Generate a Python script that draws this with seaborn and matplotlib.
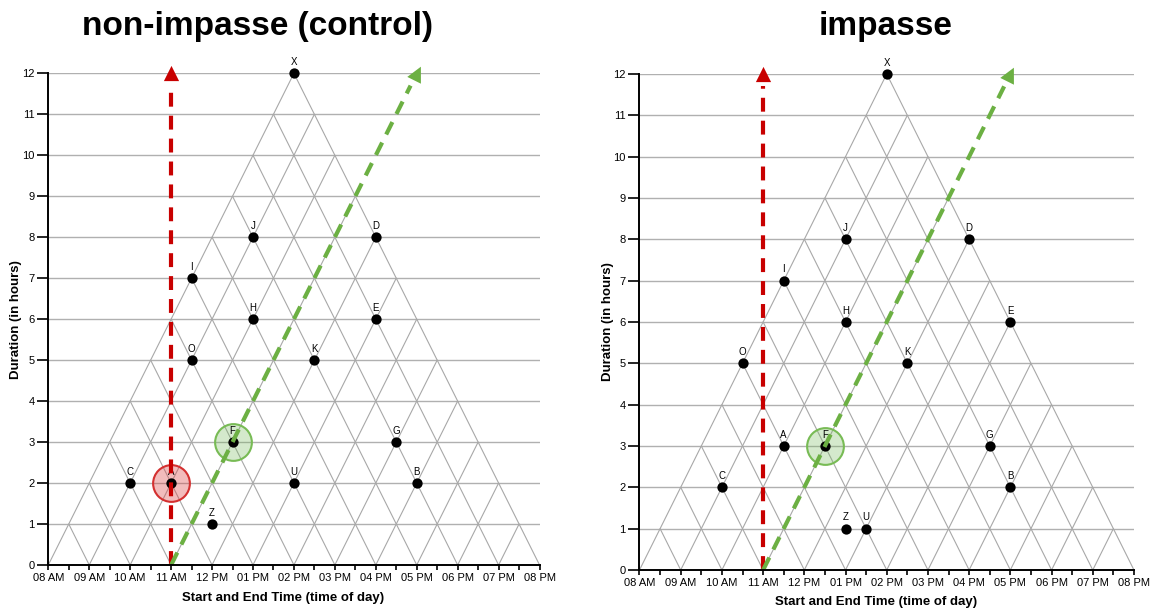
import numpy as np
import pandas as pd
import matplotlib
matplotlib.use("Agg")
import matplotlib.pyplot as plt
from matplotlib.markers import MarkerStyle
from matplotlib.transforms import Affine2D
import seaborn as sns

# ---- data: time of day (hours, midpoint of interval) and duration (hours) ----
control_labels = ["X", "J", "D", "I", "H", "E", "O", "K", "F", "G", "C", "A", "U", "B", "Z"]
control_time = [14, 13, 16, 11.5, 13, 16, 11.5, 14.5, 12.5, 16.5, 10, 11, 14, 17, 12]
control_dur = [12, 8, 8, 7, 6, 6, 5, 5, 3, 3, 2, 2, 2, 2, 1]

impasse_labels = ["X", "J", "D", "I", "H", "E", "O", "K", "A", "F", "G", "C", "B", "Z", "U"]
impasse_time = [14, 13, 16, 11.5, 13, 17, 10.5, 14.5, 11.5, 12.5, 16.5, 10, 17, 13, 13.5]
impasse_dur = [12, 8, 8, 7, 6, 6, 5, 5, 3, 3, 3, 2, 2, 1, 1]

control_highlight = {"A": "red", "F": "green"}
impasse_highlight = {"F": "green"}

hour_ticks = list(range(8, 21))
hour_labels = ["08 AM", "09 AM", "10 AM", "11 AM", "12 PM", "01 PM", "02 PM",
               "03 PM", "04 PM", "05 PM", "06 PM", "07 PM", "08 PM"]
dur_ticks = list(range(0, 13))

# reference lines: start time 11 AM (vertical = same midpoint, slope 2 = same start)
ref_start = 11
t_min, t_max, dur_max = 8, 20, 12

sns.set_style("white")
plt.rcParams["font.family"] = ["Liberation Sans", "DejaVu Sans"]
plt.rcParams["lines.scale_dashes"] = False
plt.rcParams["text.color"] = "black"
plt.rcParams["axes.labelcolor"] = "black"
plt.rcParams["xtick.color"] = "black"
plt.rcParams["ytick.color"] = "black"

fig = plt.figure(figsize=(11.51, 6.12), dpi=100)
ax_l = fig.add_axes([0.04196, 0.07680, 0.4268, 0.8034])
ax_r = fig.add_axes([0.5556, 0.06863, 0.4296, 0.8105])

RED = "#c80000"
GREEN = "#6cb043"
hl_style = {
    "red": dict(face=(0.86, 0.25, 0.25, 0.35), edge="#d43030"),
    "green": dict(face=(0.45, 0.72, 0.35, 0.30), edge="#78bb55"),
}


def draw_panel(ax, labels, times, durs, highlight):
    ax.set_xlim(t_min, t_max)
    ax.set_ylim(0, dur_max)

    # horizontal grid
    for d in dur_ticks:
        ax.axhline(d, color="#b0b0b0", lw=1.0, zorder=0)

    # triangular grid: constant-start and constant-end lines
    for s in range(t_min, t_max + 1):
        top = t_max - s
        ax.plot([s, s + top / 2], [0, top], color="#a8a8a8", lw=0.8, zorder=0)
        top = s - t_min
        ax.plot([s, s - top / 2], [0, top], color="#a8a8a8", lw=0.8, zorder=0)

    # highlighted intervals
    for lab, t, d in zip(labels, times, durs):
        if lab in highlight:
            st = hl_style[highlight[lab]]
            ax.scatter([t], [d], s=700, facecolor=st["face"], edgecolor=st["edge"],
                       linewidth=1.5, zorder=2)

    df = pd.DataFrame({"time": times, "duration": durs, "label": labels})
    sns.scatterplot(data=df, x="time", y="duration", ax=ax, color="black",
                    s=55, edgecolor="black", linewidth=0, zorder=3, clip_on=False,
                    legend=False)
    for lab, t, d in zip(labels, times, durs):
        ax.annotate(lab, (t, d), xytext=(0, 4.5), textcoords="offset points",
                    ha="center", va="bottom", fontsize=7, zorder=4,
                    annotation_clip=False)

    # reference lines with arrowheads
    ax.plot([ref_start, ref_start], [0, dur_max - 0.3], color=RED, lw=3.0,
            dashes=(10, 6.5), zorder=5, dash_capstyle="butt")
    ax.scatter([ref_start], [dur_max], marker="^", s=120, color=RED, zorder=5,
               clip_on=False, linewidth=0)

    end_x = ref_start + dur_max / 2
    y_end = dur_max - 0.3
    ax.plot([ref_start, ref_start + y_end / 2], [0, y_end], color=GREEN, lw=3.0,
            dashes=(10, 6.5), zorder=5, dash_capstyle="butt")
    p0 = ax.transData.transform((ref_start, 0))
    p1 = ax.transData.transform((end_x, dur_max))
    ang = np.degrees(np.arctan2(p1[0] - p0[0], p1[1] - p0[1]))
    m = MarkerStyle("^", transform=Affine2D().rotate_deg(-ang))
    ax.scatter([end_x], [dur_max], marker=m, s=120, color=GREEN, zorder=5,
               clip_on=False, linewidth=0)

    # axes styling
    sns.despine(ax=ax)
    for side in ("left", "bottom"):
        ax.spines[side].set_color("black")
        ax.spines[side].set_linewidth(1.4)
        ax.spines[side].set_zorder(6)
    ax.set_xticks(hour_ticks)
    ax.set_xticklabels(hour_labels, fontsize=8)
    ax.set_xticks([h + 0.5 for h in hour_ticks[:-1]], minor=True)
    ax.set_yticks(dur_ticks)
    ax.set_yticklabels([str(d) for d in dur_ticks], fontsize=8)
    ax.tick_params(axis="x", which="both", length=3.5, width=1.2, color="black",
                   bottom=True, pad=2)
    ax.tick_params(axis="y", length=8, width=1.2, color="black", left=True, pad=2)
    ax.set_xlabel("Start and End Time (time of day)", fontsize=9.5, fontweight="bold")
    ax.set_ylabel("Duration (in hours)", fontsize=9.5, fontweight="bold")


draw_panel(ax_l, control_labels, control_time, control_dur, control_highlight)
draw_panel(ax_r, impasse_labels, impasse_time, impasse_dur, impasse_highlight)
ax_l.xaxis.set_label_coords(0.478, -0.055)
ax_r.xaxis.set_label_coords(0.478, -0.052)
ax_l.yaxis.set_label_coords(-0.054, 0.5)
ax_r.yaxis.set_label_coords(-0.052, 0.5)

fig.text(258 / 1151, 1 - 26 / 612, "non-impasse (control)", ha="center", va="center",
         fontsize=24, fontweight="bold")
fig.text(886 / 1151, 1 - 26 / 612, "impasse", ha="center", va="center",
         fontsize=24, fontweight="bold")

fig.savefig("out.png", dpi=100)
